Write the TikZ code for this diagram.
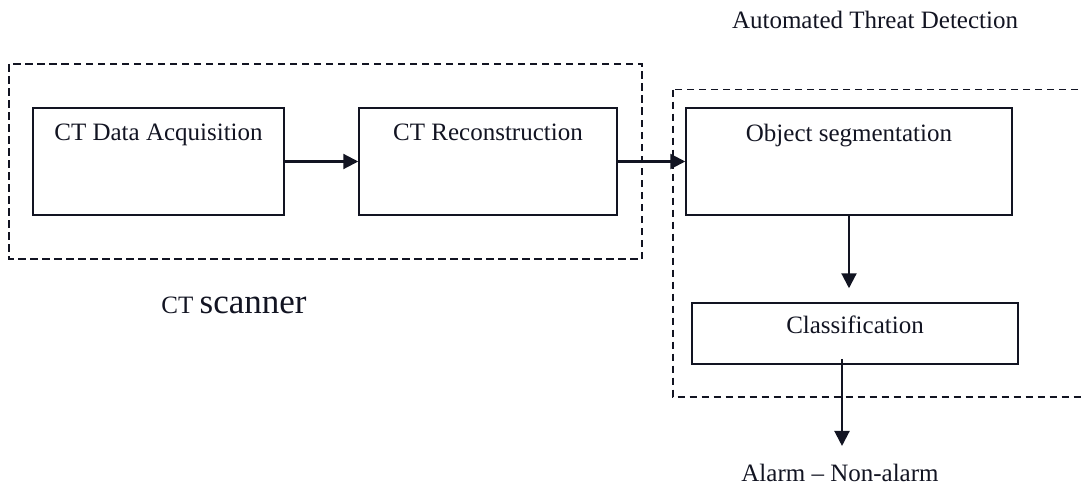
\documentclass[tikz,border=0pt]{standalone}
\usepackage{fontspec}
\setmainfont{Liberation Serif}
\usetikzlibrary{arrows.meta}
\definecolor{ink}{RGB}{18,20,34}
\tikzset{
  stage/.style={draw=ink, line width=1.5pt, rectangle, inner sep=0pt},
  lbl/.style={inner sep=0pt, text=ink, font=\fontsize{25}{30}\selectfont},
  group/.style={draw=ink, line width=1.3pt, dash pattern=on 7.5pt off 4.5pt},
  arr/.style={draw=ink, line width=2.2pt, -{Triangle[length=15pt,width=15pt]}}
}
\begin{document}
\begin{tikzpicture}[x=1pt,y=-1pt]
\useasboundingbox (0,0) rectangle (1081,487);

% dashed groupings
\draw[group] (9,64) rectangle (642,259);
\draw[group] (673,89.5) rectangle (1090,397);

% processing stages
\node[stage, minimum width=251pt, minimum height=107pt] (acq) at (158.5,161.5) {};
\node[stage, minimum width=258pt, minimum height=107pt] (rec) at (488,161.5) {};
\node[stage, minimum width=326pt, minimum height=107pt] (seg) at (849,161.5) {};
\node[stage, minimum width=326pt, minimum height=61pt] (cls) at (855,333.5) {};

% stage titles
\node[lbl, anchor=base] (tacq) at ([yshift=-33.5pt]acq.north) {CT Data Acquisition};
\node[lbl, anchor=base] (trec) at ([yshift=-33.5pt]rec.north) {CT Reconstruction};
\node[lbl, anchor=base] (tseg) at ([yshift=-34pt]seg.north) {Object segmentation};
\node[lbl, anchor=base] (tcls) at ([yshift=-31pt]cls.north) {Classification};

% captions
\node[lbl, anchor=base] (ttd) at (875,28.5) {Automated Threat Detection};
\node[lbl, anchor=base] (scan) at (234,313) {CT {\fontsize{35}{40}\selectfont scanner}};
\node[lbl, anchor=base] (alarm) at (840,481.5) {Alarm -- Non-alarm};

% data flow
\draw[arr] (acq.east) -- (rec.west);
\draw[arr] (rec.east) -- (seg.west);
\draw[arr, shorten >=14pt] (seg.south) -- (seg.south |- cls.north);
\draw[arr] ([xshift=-13pt, yshift=6pt]cls.south) -- ([xshift=2pt, yshift=18pt]alarm.north);
\end{tikzpicture}
\end{document}
